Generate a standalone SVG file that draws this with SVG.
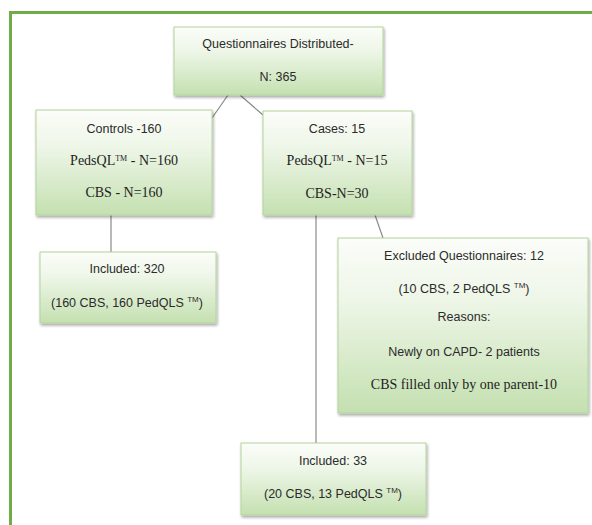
<svg xmlns="http://www.w3.org/2000/svg" width="592" height="525" viewBox="0 0 592 525">
<defs>
<linearGradient id="g" x1="0" y1="0" x2="0" y2="1">
<stop offset="0" stop-color="#fbfdf9"/>
<stop offset="0.35" stop-color="#eef6e8"/>
<stop offset="1" stop-color="#c4e0b0"/>
</linearGradient>
<filter id="sh" x="-5%" y="-5%" width="112%" height="115%">
<feGaussianBlur in="SourceAlpha" stdDeviation="1.5"/>
<feOffset dx="1" dy="2" result="b"/>
<feComponentTransfer><feFuncA type="linear" slope="0.35"/></feComponentTransfer>
<feMerge><feMergeNode/><feMergeNode in="SourceGraphic"/></feMerge>
</filter>
</defs>
<style>
.box{fill:url(#g);stroke:#b3d49c;stroke-width:1;filter:url(#sh)}
.s{font-family:"Liberation Sans",Arial,sans-serif;font-size:12.5px;fill:#2b2b2b;text-anchor:middle}
.r{font-family:"Liberation Serif","Times New Roman",serif;font-size:14px;fill:#1e1e1e;text-anchor:middle}
.tm{font-size:8px}
.c{stroke:#8a8a8a;stroke-width:1.2;fill:none}
</style>
<rect width="592" height="525" fill="#ffffff"/>
<path d="M10.5 525 V12.5 H592" fill="none" stroke="#70ad47" stroke-width="3"/>
<g id="connectors">
<line class="c" x1="228" y1="95" x2="212" y2="118"/>
<line class="c" x1="240" y1="95" x2="263" y2="115"/>
<line class="c" x1="111" y1="215" x2="111" y2="252"/>
<line class="c" x1="316" y1="215" x2="316" y2="443"/>
<line class="c" x1="375" y1="215" x2="383" y2="238"/>
</g>
<g id="distributed">
<rect class="box" x="174" y="27" width="209" height="68"/>
<text class="s" x="278" y="48">Questionnaires Distributed-</text>
<text class="s" x="278" y="81">N: 365</text>
</g>
<g id="controls">
<rect class="box" x="36" y="110" width="176" height="105"/>
<text class="s" x="124" y="133">Controls -160</text>
<text class="r" x="124" y="165">PedsQL<tspan class="tm" dy="-4">TM</tspan><tspan dy="4"> - N=160</tspan></text>
<text class="r" x="124" y="197">CBS - N=160</text>
</g>
<g id="cases">
<rect class="box" x="263" y="111" width="149" height="104"/>
<text class="s" x="337" y="133">Cases: 15</text>
<text class="r" x="337" y="165">PedsQL<tspan class="tm" dy="-4">TM</tspan><tspan dy="4"> - N=15</tspan></text>
<text class="r" x="337" y="198">CBS-N=30</text>
</g>
<g id="included320">
<rect class="box" x="40" y="252" width="176" height="71"/>
<text class="s" x="127" y="273">Included: 320</text>
<text class="s" x="127" y="307">(160 CBS, 160 PedQLS <tspan class="tm" dy="-5">TM</tspan><tspan dy="5">)</tspan></text>
</g>
<g id="excluded">
<rect class="box" x="338" y="238" width="250" height="175"/>
<text class="s" x="464" y="260">Excluded Questionnaires: 12</text>
<text class="s" x="464" y="293">(10 CBS, 2 PedQLS <tspan class="tm" dy="-5">TM</tspan><tspan dy="5">)</tspan></text>
<text class="s" x="464" y="321">Reasons:</text>
<text class="s" x="464" y="356">Newly on CAPD- 2 patients</text>
<text class="r" x="464" y="389">CBS filled only by one parent-10</text>
</g>
<g id="included33">
<rect class="box" x="241" y="443" width="185" height="72"/>
<text class="s" x="333" y="465">Included: 33</text>
<text class="s" x="333" y="498">(20 CBS, 13 PedQLS <tspan class="tm" dy="-5">TM</tspan><tspan dy="5">)</tspan></text>
</g>
</svg>
